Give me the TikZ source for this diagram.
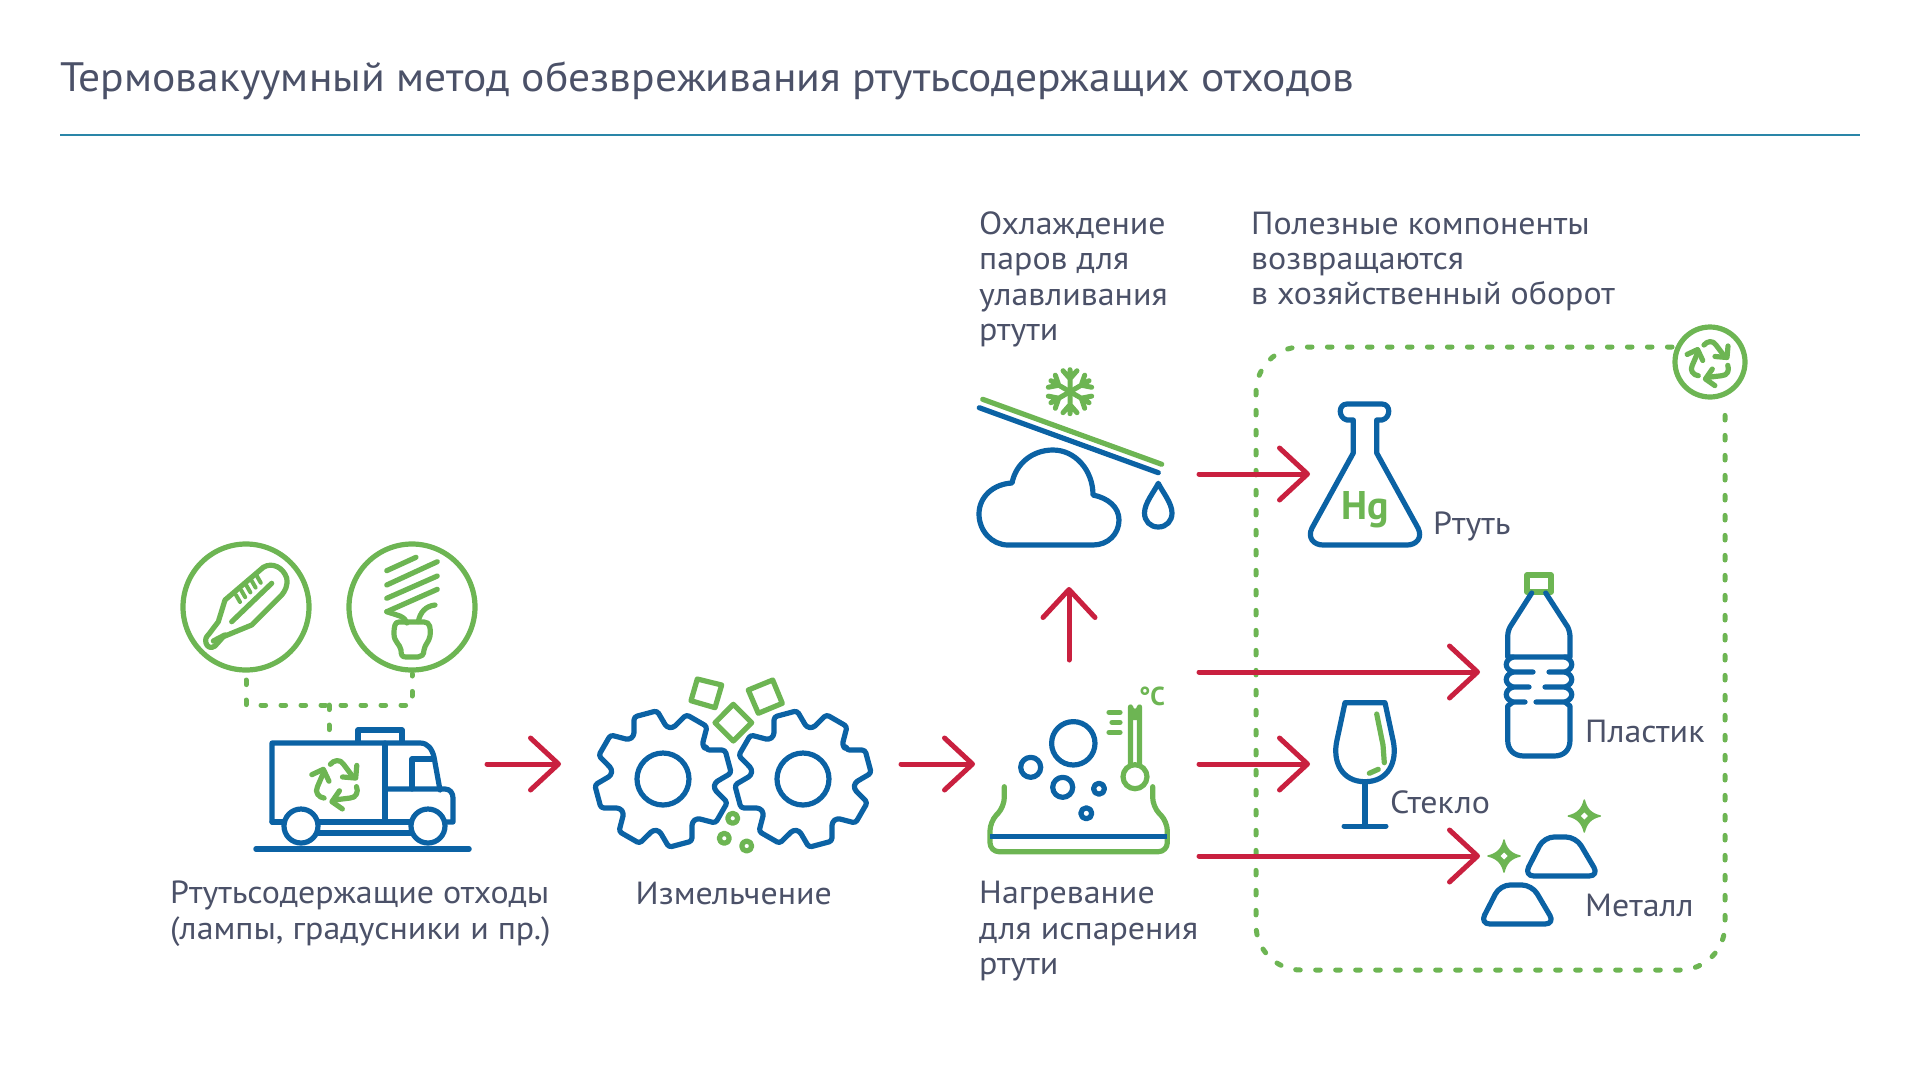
\documentclass[tikz,border=0pt]{standalone}
\usepackage{fontspec}
\setmainfont{PT Sans}
\newfontfamily\lblfont[FakeStretch=1.06]{PT Sans}
\usetikzlibrary{arrows.meta}
\definecolor{iblue}{HTML}{0B62A4}
\definecolor{igreen}{HTML}{6DB553}
\definecolor{ired}{HTML}{C9203F}
\definecolor{itext}{HTML}{4B5168}
\definecolor{irule}{HTML}{2A86A8}
\tikzset{
  bl/.style={draw=iblue,line width=5.2pt,line cap=round,line join=round},
  gr/.style={draw=igreen,line width=5.2pt,line cap=round,line join=round},
  dotline/.style={draw=igreen,line width=5pt,line cap=round,dash pattern=on 4.6pt off 15.4pt},
  redarr/.style={draw=ired,line width=5pt,line cap=round,-{Straight Barb[length=28pt,width=52pt,line width=5pt,round]}},
  lbl/.style={font=\lblfont\fontsize{32}{35.4}\selectfont,text=itext,anchor=base west,inner sep=0pt,align=left},
}
\newcommand{\recyc}[3]{%
  \begin{scope}[shift={(#1,#2)},scale=#3]
    \foreach \r in {0,120,240}{
      \draw[gr,rotate=\r] (-6,-17) .. controls (-3,-21) and (3,-22) .. (6,-17) -- (15,-5);
      \draw[gr,rotate=\r] (5,-5.5) -- (17,-4.5) -- (18,-16);
    }
  \end{scope}}
\newcommand{\geart}[2]{%
  \begin{scope}[shift={(#1,#2)}]
    \draw[bl,rounded corners=3pt]
      (-15-19:52)
      \foreach \a in {-15,30,75,120,165,210,255,300}{
        -- ({\a-19}:52) -- ({\a-10}:68.5) -- ({\a+10}:68.5) -- ({\a+19}:52)
      } -- cycle;
    \draw[bl] (0,0) circle (26);
  \end{scope}}
\newcommand{\ingot}[2]{%
  \draw[bl,rounded corners=10pt,shift={(#1,#2)}] (1544,837) -- (1576,837) -- (1599,876) -- (1524,876) -- cycle;}
\newcommand{\sparkle}[2]{%
  \begin{scope}[shift={(#1,#2)}]
    \fill[igreen,draw=igreen,line width=1.5pt,line join=round] (0,-16) .. controls (2,-7) and (7,-2) .. (16,0) .. controls (7,2) and (2,7) .. (0,16) .. controls (-2,7) and (-7,2) .. (-16,0) .. controls (-7,-2) and (-2,-7) .. (0,-16) -- cycle;
    \fill[white] (0,-3.5) -- (3.5,0) -- (0,3.5) -- (-3.5,0) -- cycle;
  \end{scope}}
\begin{document}
\begin{tikzpicture}[x=1pt,y=-1pt]
\useasboundingbox (0,0) rectangle (1920,1080);
\node[lbl,font=\lblfont\fontsize{41.1}{48}\selectfont] (title) at (60,91) {Термовакуумный метод обезвреживания ртутьсодержащих отходов};
\coordinate (ruleL) at (60,135); \coordinate (ruleR) at (1860,135);
\draw[irule,line width=1.8pt] (ruleL) -- (ruleR);

% dashed frame
\draw[dotline] (1672,347) -- (1301,347) arc[start angle=-90,end angle=-180,radius=45] -- (1256,925) arc[start angle=180,end angle=90,radius=45] -- (1680,970) arc[start angle=90,end angle=0,radius=45] -- (1725,407);
\draw[gr] (1710,362) circle (35);
\recyc{1710}{362}{1}

% thermometer in circle
\draw[gr] (246,607) circle (63);
\draw[gr] (225,600) -- (263.3,567.3) .. controls (272,562) and (283,567) .. (286.7,578) .. controls (288,586) and (285,591) .. (281.7,595) -- (251.7,625) -- (223.3,636.7) -- (215,646) .. controls (211,649) and (207,647) .. (206,643) .. controls (205,639) and (206,637) .. (209,634) -- (218.3,621.7) -- cycle;
\draw[gr] (271.7,583.3) -- (231.7,621.7);
\draw[gr,line width=5.5pt] (213.5,641) -- (225,635);
\foreach \i in {0,1,2,3,4}{
  \draw[gr,line width=4pt] ({236+\i*5.2},{595-\i*4.8}) -- ({240+\i*5.2},{602-\i*4.8});
}
% lamp in circle
\draw[gr] (412,607) circle (63);
\draw[gr] (386.7,570.7) -- (416,557.3);
\draw[gr] (386.7,585) -- (437.3,561.7);
\draw[gr] (386.7,598.3) -- (437.3,576);
\draw[gr] (386.7,611.7) -- (437.3,589.3);
\draw[gr] (386.7,611.7) -- (400,616) .. controls (404,618) and (406,620) .. (407,623);
\draw[gr] (418.3,621.7) .. controls (420,612) and (426,606) .. (435,605);
\draw[gr] (399,622) -- (424,622) .. controls (430,622) and (431,628) .. (430,636) .. controls (429,642) and (425,644) .. (424,650) .. controls (424,655) and (421,657) .. (418,657) -- (406,657) .. controls (402,657) and (401,655) .. (401,650) .. controls (400,644) and (394,642) .. (394,634) .. controls (394,626) and (395,622) .. (399,622) -- cycle;
% dashed connectors
\coordinate (cThermo) at (246,680); \coordinate (cLamp) at (412,674); \coordinate (cTruck) at (329,740);
\draw[dotline] (cThermo) -- (246,705) -- (412,705) -- (cLamp);
\draw[dotline] (329,705) -- (cTruck);

% truck
\draw[bl] (272,822) -- (272,743) -- (420,743) .. controls (428,743) and (432,749) .. (434,757) -- (440,790);
\draw[bl] (358,742) -- (358,730) -- (402,730) -- (402,742);
\draw[bl] (385,743) -- (385,822);
\draw[bl] (412,789) -- (412,759) -- (432,759);
\draw[bl] (385,789) -- (445,789) .. controls (450,789) and (453,793) .. (453,798) -- (453,822) -- (446,822);
\draw[bl] (272,822) -- (411,822);
\draw[bl] (301,833) -- (428,833);
\draw[bl,fill=white] (301,826) circle (17);
\draw[bl,fill=white] (428,826) circle (17);
\draw[draw=iblue,line width=5.5pt,line cap=round] (256,849) -- (469,849);
\recyc{337}{783}{1.1}

% gears
\draw[gr] (697.3,679) -- (721.7,685) -- (715,707.7) -- (691,700.7) -- cycle;
\draw[gr] (748.3,690) -- (772.7,680) -- (782.3,703.3) -- (758.3,713.3) -- cycle;
\draw[gr] (733.3,704.3) -- (751.7,722.7) -- (733.3,741) -- (715,722.7) -- cycle;
\geart{663}{779}
\geart{803}{779}
\draw[gr] (732.7,818.3) circle (5);
\draw[gr] (724.3,838.3) circle (5);
\draw[gr] (746.7,846) circle (5);

% heater
\draw[gr,rounded corners=9pt] (1004.3,786.7) -- (1004.3,806.7) -- (990,821.7) -- (990,851.7) -- (1167.3,851.7) -- (1167.3,821.7) -- (1152.7,806.7) -- (1152.7,786.7);
\draw[draw=iblue,line width=5pt] (990,836.7) -- (1167,836.7);
\draw[bl] (1073.3,743.3) circle (21.7);
\draw[bl] (1030.7,767.3) circle (10);
\draw[bl] (1062.7,787.3) circle (10);
\draw[bl] (1099,788.7) circle (5.5);
\draw[bl] (1086.3,813.3) circle (5.5);
\fill[igreen] (1128.7,720) -- (1128.7,707) arc[start angle=180,end angle=0,radius=6.3] -- (1141.3,720) -- cycle;
\draw[gr] (1130.5,766) -- (1130.5,707) arc[start angle=180,end angle=0,radius=4.5] -- (1139.5,766);
\draw[gr,fill=white] (1135,776.7) circle (12);
\draw[gr] (1109,712.3) -- (1120,712.3);
\draw[gr] (1112,722.3) -- (1120,722.3);
\draw[gr] (1109,732.3) -- (1120,732.3);
\node[inner sep=0pt,text=igreen,font=\fontsize{26}{30}\selectfont\bfseries] (degc) at (1152,696) {°C};

% cloud
\draw[gr] (982.7,399.3) -- (1161.7,464.3);
\draw[bl] (979.3,407.7) -- (1158.3,472.7);
\draw[bl] (1008,545) .. controls (992,545) and (979,531) .. (979,514) .. controls (979,497) and (993,484) .. (1012,483) .. controls (1016,463) and (1033,450) .. (1053,450) .. controls (1075,450) and (1093,470) .. (1093,495) .. controls (1108,498) and (1119,507) .. (1119,520) .. controls (1119,534) and (1108,545) .. (1093,545) -- cycle;
\draw[bl] (1158.3,483.3) .. controls (1154,492) and (1144.5,503) .. (1144.5,513) .. controls (1144.5,521) and (1150,527) .. (1158.3,527) .. controls (1166.5,527) and (1172,521) .. (1172,513) .. controls (1172,503) and (1162.5,492) .. (1158.3,483.3) -- cycle;
% snowflake
\begin{scope}[shift={(1070,391.7)}]
\foreach \r in {0,60,120,180,240,300}{
  \draw[gr,rotate=\r,line width=5pt] (0,0) -- (0,-22) (0,-13) -- (-7,-21) (0,-13) -- (7,-21);
}
\end{scope}

% flask
\draw[bl] (1353.3,420) -- (1347,420) .. controls (1338,418) and (1338,404) .. (1347,404) -- (1382,404) .. controls (1391,404) and (1391,418) .. (1382,420) -- (1376.7,420) -- (1376.7,453) -- (1418,528) .. controls (1423,538) and (1416,545) .. (1407,545) -- (1323,545) .. controls (1314,545) and (1307,538) .. (1312,528) -- (1353.3,453) -- cycle;
\node[inner sep=0pt,text=igreen,font=\fontsize{40}{44}\selectfont\bfseries] (hg) at (1365,510) {Hg};

% bottle
\draw[gr] (1527,575) rectangle (1551,592);
\draw[bl] (1531.7,593) -- (1510,627) .. controls (1508,631) and (1507.7,634) .. (1507.7,638) -- (1507.7,657) -- (1570,657) -- (1570,638) .. controls (1570,634) and (1569.5,631) .. (1567.7,627) -- (1545.7,593);
\draw[bl] (1513,657) .. controls (1504,660) and (1504,669) .. (1513,672) -- (1533,672);
\draw[bl] (1565,657) .. controls (1574,660) and (1574,669) .. (1565,672) -- (1549,672);
\draw[bl] (1513,672) .. controls (1504,675) and (1504,684) .. (1513,687) -- (1529,687);
\draw[bl] (1565,672) .. controls (1574,675) and (1574,684) .. (1565,687) -- (1545,687);
\draw[bl] (1513,687) .. controls (1504,690) and (1504,699) .. (1513,702) -- (1525,702);
\draw[bl] (1565,687) .. controls (1574,690) and (1574,699) .. (1565,702) -- (1536,702);
\draw[bl] (1513,702) -- (1507.7,706) -- (1507.7,740) .. controls (1507.7,750) and (1514,756) .. (1524,756) -- (1554,756) .. controls (1564,756) and (1570,750) .. (1570,740) -- (1570,706) -- (1565,702);

% glass
\draw[bl] (1345,702.7) -- (1385,702.7) -- (1393,740) .. controls (1398,762) and (1388,781.7) .. (1365,781.7) .. controls (1342,781.7) and (1332,762) .. (1337,740) -- cycle;
\draw[bl] (1365,782) -- (1365,826);
\draw[draw=iblue,line width=5pt,line cap=round] (1344,826) -- (1386,826);
\draw[gr] (1376.7,714) -- (1383,745) -- (1384.3,762.7);
\draw[gr] (1369.3,773.3) -- (1378.3,769.3);

% metal
\ingot{0}{0}
\ingot{-44}{48}
\sparkle{1504}{856}
\sparkle{1584.3}{816}

% arrows
\coordinate (a1s) at (487,764); \coordinate (a1e) at (561,764);
\coordinate (a2s) at (901,764); \coordinate (a2e) at (975,764);
\coordinate (a3s) at (1069,660); \coordinate (a3e) at (1069,587);
\coordinate (a4s) at (1199,474); \coordinate (a4e) at (1310,474);
\coordinate (a5s) at (1199,672); \coordinate (a5e) at (1480,672);
\coordinate (a6s) at (1199,764); \coordinate (a6e) at (1310,764);
\coordinate (a7s) at (1199,856); \coordinate (a7e) at (1480,856);
\foreach \n in {1,...,7}{ \draw[redarr] (a\n s) -- (a\n e); }

% labels
\node[lbl] (l1) at (979,340.5) {Охлаждение\\паров для\\улавливания\\ртути};
\node[lbl] (l2) at (1251,304.8) {Полезные компоненты\\возвращаются\\в хозяйственный оборот};
\node[lbl] (l3) at (170,939) {Ртутьсодержащие отходы\\(лампы, градусники и пр.)};
\node[lbl] (l4) at (635.5,904) {Измельчение};
\node[lbl] (l5) at (979,974.5) {Нагревание\\для испарения\\ртути};
\node[lbl] (l6) at (1433,534) {Ртуть};
\node[lbl] (l7) at (1585,742.5) {Пластик};
\node[lbl] (l8) at (1390,813) {Стекло};
\node[lbl] (l9) at (1585,916.5) {Металл};
\end{tikzpicture}
\end{document}
